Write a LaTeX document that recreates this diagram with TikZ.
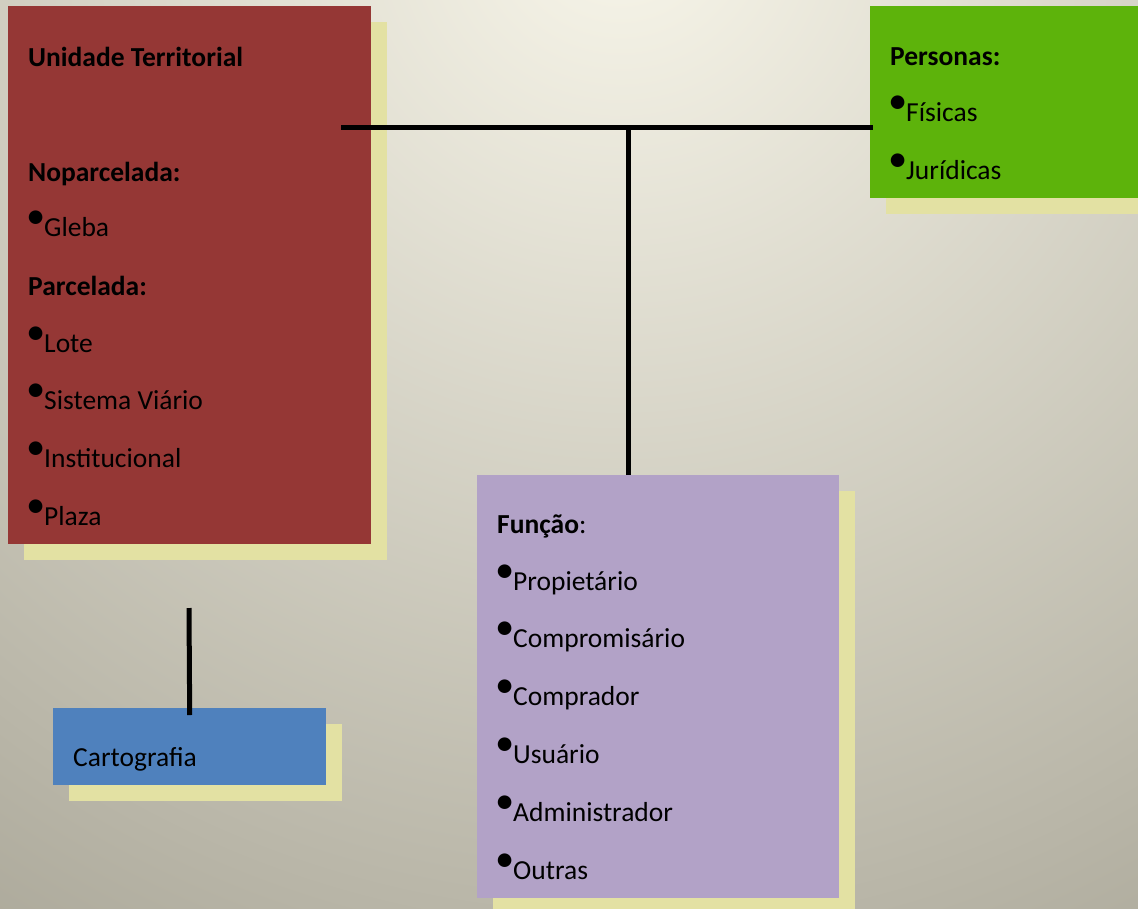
\documentclass[tikz,border=0pt]{standalone}
\usepackage{fontspec}
\setmainfont{Carlito}
\usetikzlibrary{shadows}

\definecolor{fundoclaro}{HTML}{F8F6EA}
\definecolor{fundoescuro}{HTML}{7A7666}
\definecolor{terracor}{HTML}{953735}
\definecolor{pessoacor}{HTML}{5DB30B}
\definecolor{funcaocor}{HTML}{B2A2C7}
\definecolor{cartocor}{HTML}{4F81BD}
\definecolor{sombra}{HTML}{E3E1A3}

\newcommand{\bul}{\makebox[14pt][l]{\hspace{-3.5pt}\raisebox{8pt}{\scalebox{1.4}{\textbullet}}}}

\begin{document}
\begin{tikzpicture}[x=1pt,y=-1pt]
\tikzstyle{box}=[rectangle, anchor=north west, inner sep=0pt, drop shadow={shadow xshift=16pt, shadow yshift=-16pt, fill=sombra, opacity=1}]
\tikzstyle{head}=[anchor=base west, inner sep=0pt, font=\fontsize{27.5}{32}\selectfont\bfseries]
\tikzstyle{itm}=[anchor=base west, inner sep=0pt, font=\fontsize{27.5}{32}\selectfont]
\tikzstyle{link}=[line width=5pt, line cap=butt]

\useasboundingbox (0,0) rectangle (1138,908);
\clip (0,0) rectangle (1138,908);

% Background
\shade[inner color=fundoclaro, outer color=fundoescuro] (-1380,-2080) rectangle (2620,1920);

% Boxes
\node[box, fill=terracor, minimum width=363pt, minimum height=538pt] (unidade) at (8,6) {};
\node[box, fill=pessoacor, minimum width=290pt, minimum height=192pt] (personas) at (870,6) {};
\node[box, fill=funcaocor, minimum width=362pt, minimum height=423pt] (funcao) at (477,475) {};
\node[box, fill=cartocor, minimum width=273pt, minimum height=77pt] (cartografia) at (53,708) {};

% Unidade Territorial
\node[head] (untit) at (28,66) {Unidade Territorial};
\node[head] (nopar) at (28,181) {Noparcelada:};
\node[itm] (gleba) at (30,236) {\bul Gleba};
\node[head] (par) at (28,295) {Parcelada:};
\foreach \t [count=\i from 0] in {Lote, Sistema Viário, Institucional, Plaza}
  \node[itm] (par\i) at (30,352+57.7*\i) {\bul\t};

% Personas
\node[head] (pestit) at (890,65) {Personas:};
\node[itm] (fisicas) at (892,121) {\bul Físicas};
\node[itm] (juridicas) at (892,179) {\bul Jurídicas};

% Funcao
\node[itm] (funtit) at (497,533) {\textbf{Função}:};
\foreach \t [count=\i from 0] in {Propietário, Compromisário, Comprador, Usuário, Administrador, Outras}
  \node[itm] (fun\i) at (499,590+57.8*\i) {\bul\t};

% Cartografia
\node[itm] (cartit) at (73,766) {Cartografia};

% Connect nodes
\coordinate (hl) at (341,127);
\coordinate (hr) at (873,127);
\coordinate (jn) at (628,127);
\coordinate (ct) at (189,608);
\draw[link] (hl) -- (hr);
\draw[link] (jn) -- (jn |- funcao.north);
\draw[link] (ct) -- ([yshift=-7pt]cartografia.north);
\end{tikzpicture}
\end{document}
